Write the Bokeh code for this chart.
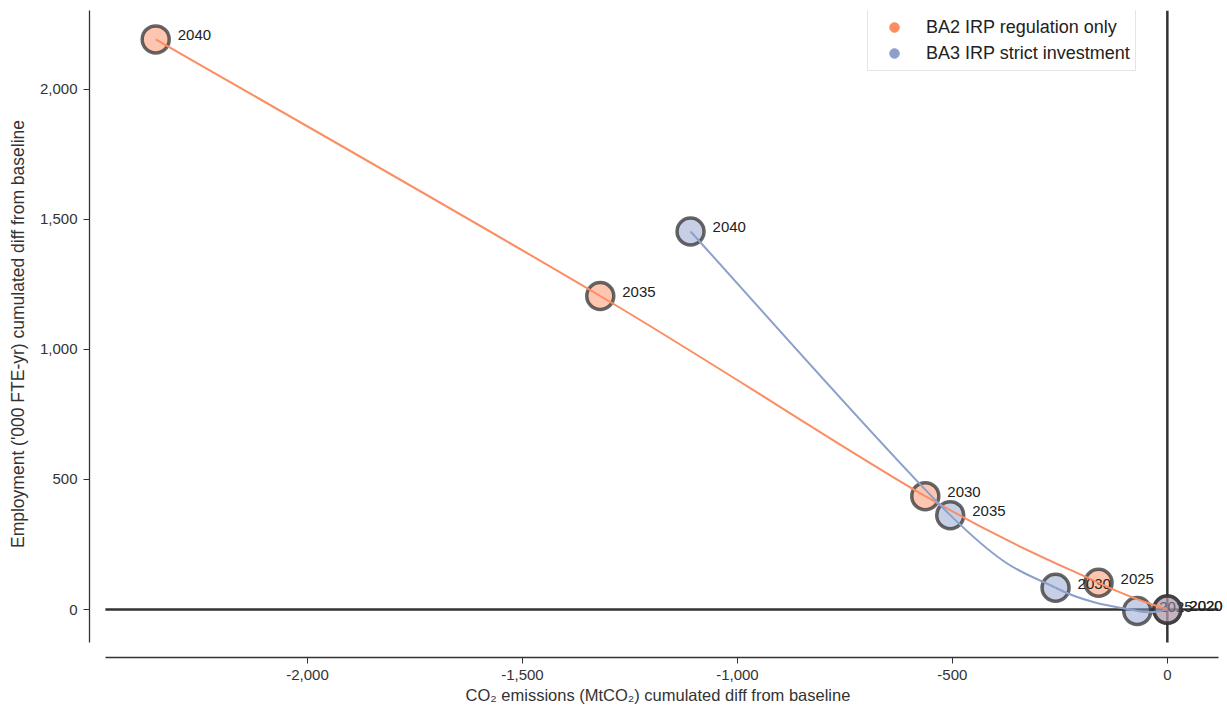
from bokeh.plotting import figure
from bokeh.models import Range1d, NumeralTickFormatter, FixedTicker, Legend, LegendItem
from bokeh.core.properties import value
from bokeh.embed import file_html
from bokeh.resources import INLINE

# ---- data ----
years = ["2020", "2025", "2030", "2035", "2040"]
ba2_co2 = [0, -160, -563, -1319, -2353]
ba2_emp = [0, 103, 436, 1205, 2191]
ba3_co2 = [0, -70, -260, -505, -1109]
ba3_emp = [0, -5, 84, 363, 1453]
series_names = ["BA2 IRP regulation only", "BA3 IRP strict investment"]
x_ticks = [-2000, -1500, -1000, -500, 0]
y_ticks = [0, 500, 1000, 1500, 2000]

ORANGE = "#fc8d62"
BLUE = "#8da0cb"
FONT = "Liberation Sans"

# data area and frame ranges (frame extended to mimic offset spines)
x_lo, x_hi = -2470, 119
y_lo, y_hi = -126, 2302

p = figure(width=1227, height=706, output_backend="svg", toolbar_location=None,
           x_range=Range1d(-2507, 137.6), y_range=Range1d(-184, y_hi),
           min_border_left=89, min_border_right=1, min_border_top=10, min_border_bottom=46)
p.outline_line_color = None
p.grid.visible = False
p.background_fill_color = "white"
# off-screen range used only for legend swatches
p.extra_y_ranges = {"legend": Range1d(start=1e6, end=2e6)}

for ax, ticks, bounds in ((p.xaxis[0], x_ticks, (x_lo, x_hi)), (p.yaxis[0], y_ticks, (y_lo, y_hi))):
    ax.ticker = FixedTicker(ticks=ticks)
    ax.formatter = NumeralTickFormatter(format="0,0")
    ax.bounds = bounds
    ax.axis_line_color = "#333333"
    ax.axis_line_width = 1.3
    ax.major_tick_line_color = "#333333"
    ax.major_tick_out = 6
    ax.major_tick_in = 0
    ax.minor_tick_line_color = None
    ax.major_label_text_font = FONT
    ax.major_label_text_font_size = "15px"
    ax.major_label_text_color = "#333333"
    ax.axis_label_text_font = FONT
    ax.axis_label_text_font_style = "normal"
    ax.axis_label_text_color = "#333333"

p.xaxis.axis_label = "CO\u2082 emissions (MtCO\u2082) cumulated diff from baseline"
p.yaxis.axis_label = "Employment ('000 FTE-yr) cumulated diff from baseline"
p.xaxis.axis_label_text_font_size = "16.5px"
p.yaxis.axis_label_text_font_size = "17.5px"
p.xaxis.major_label_standoff = 6
p.yaxis.major_label_standoff = 6
p.xaxis.axis_label_standoff = 3
p.yaxis.axis_label_standoff = 9


def catmull(xs, ys):
    n = len(xs)
    out = dict(x0=[], y0=[], x1=[], y1=[], cx0=[], cy0=[], cx1=[], cy1=[])
    for i in range(n - 1):
        a = max(i - 1, 0)
        d = min(i + 2, n - 1)
        out["x0"].append(xs[i]); out["y0"].append(ys[i])
        out["x1"].append(xs[i + 1]); out["y1"].append(ys[i + 1])
        out["cx0"].append(xs[i] + (xs[i + 1] - xs[a]) / 6)
        out["cy0"].append(ys[i] + (ys[i + 1] - ys[a]) / 6)
        out["cx1"].append(xs[i + 1] - (xs[d] - xs[i]) / 6)
        out["cy1"].append(ys[i + 1] - (ys[d] - ys[i]) / 6)
    return out

# zero reference lines
p.segment(x0=[x_lo], y0=[0], x1=[x_hi], y1=[0], line_color="#333333", line_width=2.5)
p.segment(x0=[0], y0=[y_lo], x1=[0], y1=[y_hi], line_color="#333333", line_width=2.5)

circ = dict(size=27, line_color="#333333", line_alpha=0.75, line_width=3.5, fill_alpha=0.5)
txt = dict(x_offset=22, y_offset=-4, text_baseline="middle", text_font=value(FONT),
           text_font_size="15px", text_color="#222222")

p.scatter(ba2_co2, ba2_emp, fill_color=ORANGE, **circ)
p.text(ba3_co2, ba3_emp, text=years, **txt)
p.scatter(ba3_co2, ba3_emp, fill_color=BLUE, **circ)

p.bezier(**catmull(ba2_co2, ba2_emp), line_color=ORANGE, line_width=2)
p.bezier(**catmull(ba3_co2, ba3_emp), line_color=BLUE, line_width=2)

p.text(ba2_co2, ba2_emp, text=years, **txt)

# legend swatches (drawn off-screen, shown only in the legend)
r1 = p.scatter(ba2_co2, ba2_emp, color=ORANGE, size=10, y_range_name="legend")
r2 = p.scatter(ba3_co2, ba3_emp, color=BLUE, size=10, y_range_name="legend")
legend = Legend(items=[LegendItem(label=series_names[0], renderers=[r1], index=0),
                       LegendItem(label=series_names[1], renderers=[r2], index=0)],
                location=(778, 586), glyph_width=42, glyph_height=24,
                label_standoff=11, padding=5, spacing=2, margin=0,
                label_text_font=FONT, label_text_font_size="18px", label_text_color="#222222",
                border_line_color="#cccccc", border_line_width=1,
                background_fill_color="white", background_fill_alpha=0.9)
p.add_layout(legend, "center")

open("out.html", "w").write(file_html(p, INLINE))
